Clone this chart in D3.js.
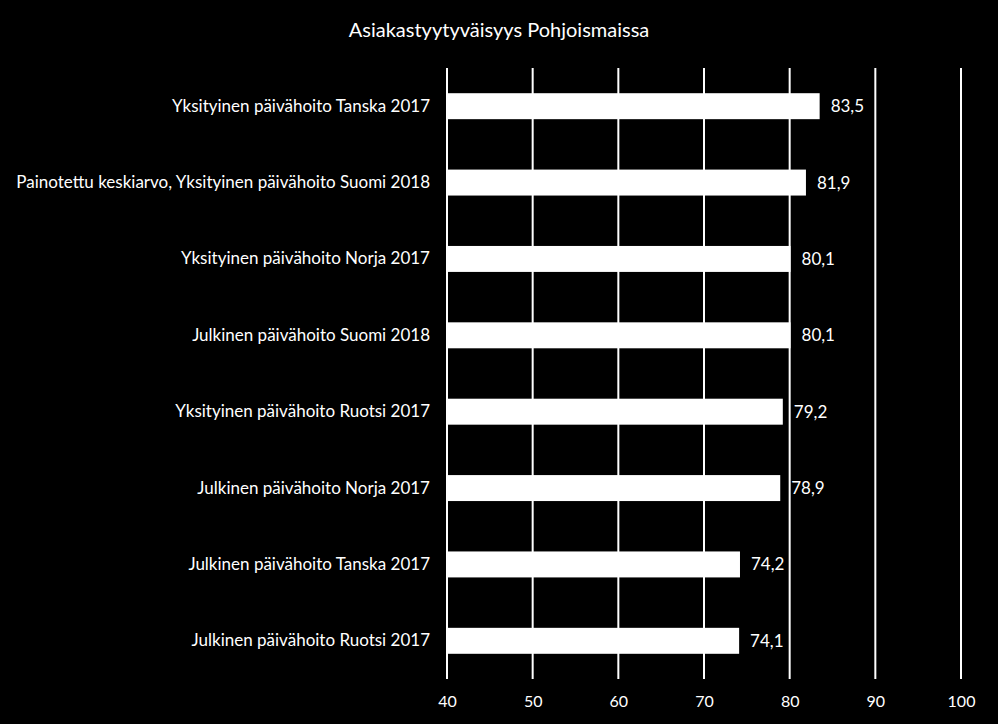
<!DOCTYPE html>
<html>
<head>
<meta charset="utf-8">
<script src="https://cdn.jsdelivr.net/npm/d3@7"></script>
<style>
  html, body { margin: 0; padding: 0; background: #000; }
  svg { display: block; }
  text { font-family: Lato, "Open Sans", sans-serif; fill: #fff; }
</style>
</head>
<body>
<svg id="chart"></svg>
<script>
// Chart size
const width = 998, height = 724;

// Data
const categories = [
  "Yksityinen päivähoito Tanska 2017",
  "Painotettu keskiarvo, Yksityinen päivähoito Suomi 2018",
  "Yksityinen päivähoito Norja 2017",
  "Julkinen päivähoito Suomi 2018",
  "Yksityinen päivähoito Ruotsi 2017",
  "Julkinen päivähoito Norja 2017",
  "Julkinen päivähoito Tanska 2017",
  "Julkinen päivähoito Ruotsi 2017"
];
const values = [83.5, 81.9, 80.1, 80.1, 79.2, 78.9, 74.2, 74.1];
const xTicks = [40, 50, 60, 70, 80, 90, 100];
const title = "Asiakastyytyväisyys Pohjoismaissa";

const svg = d3.select("#chart")
  .attr("width", width)
  .attr("height", height);

// Scales
const x = d3.scaleLinear()
  .domain([40, 100])
  .range([447, 961]);

const y = d3.scaleBand()
  .domain(categories)
  .range([68, 679])
  .paddingInner(0.66)
  .paddingOuter(0.33);

// Title
svg.append("text")
  .attr("x", 499)
  .attr("y", 37)
  .attr("text-anchor", "middle")
  .style("font-size", "20px")
  .text(title);

// Gridlines
svg.append("g")
  .selectAll("line")
  .data(xTicks)
  .join("line")
  .attr("x1", d => x(d))
  .attr("x2", d => x(d))
  .attr("y1", 68)
  .attr("y2", 679)
  .attr("stroke", "#fff")
  .attr("stroke-width", 2);

// X axis labels
const xAxis = d3.axisBottom(x)
  .tickValues(xTicks)
  .tickSize(0)
  .tickPadding(0);

const gx = svg.append("g")
  .attr("transform", "translate(0, 696)")
  .call(xAxis);
gx.select(".domain").remove();
gx.selectAll("text")
  .attr("fill", "#fff")
  .attr("dy", "0.71em")
  .style("font-family", "Lato, 'Open Sans', sans-serif")
  .style("font-size", "16px");

// Category labels
const yAxis = d3.axisLeft(y)
  .tickSize(0)
  .tickPadding(0);

const gy = svg.append("g")
  .attr("transform", "translate(430, 0)")
  .call(yAxis);
gy.select(".domain").remove();
gy.selectAll("text")
  .attr("fill", "#fff")
  .style("font-family", "Lato, 'Open Sans', sans-serif")
  .style("font-size", "17px");

// Bars
const rows = categories.map((c, i) => ({ category: c, value: values[i] }));

svg.append("g")
  .selectAll("rect")
  .data(rows)
  .join("rect")
  .attr("x", x(40))
  .attr("y", d => y(d.category))
  .attr("width", d => x(d.value) - x(40))
  .attr("height", y.bandwidth())
  .attr("fill", "#fff");

// Value labels
const fmt = d => d.toFixed(1).replace(".", ",");

svg.append("g")
  .selectAll("text")
  .data(rows)
  .join("text")
  .attr("x", d => x(d.value) + 11)
  .attr("y", d => y(d.category) + y.bandwidth() / 2)
  .attr("dy", "0.35em")
  .style("font-size", "17px")
  .text(d => fmt(d.value));
</script>
</body>
</html>
